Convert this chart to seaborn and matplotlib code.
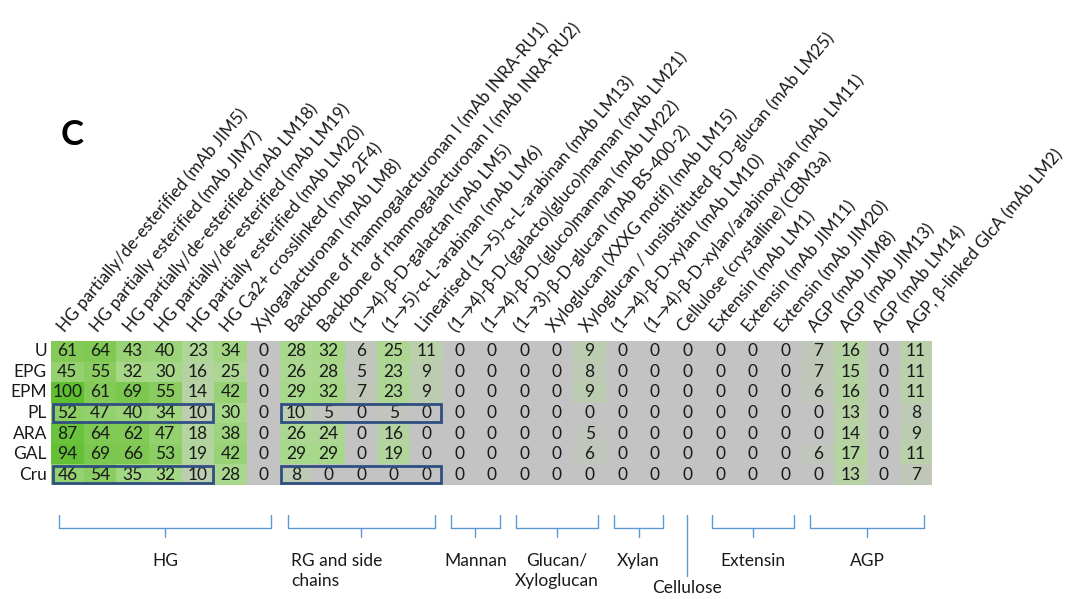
import numpy as np
import pandas as pd
import matplotlib
matplotlib.use("Agg")
import matplotlib.pyplot as plt
from matplotlib.colors import LinearSegmentedColormap
from matplotlib.patches import Rectangle
import seaborn as sns

# Epitopes probed (columns) and samples (rows)
epitopes = [
    "HG partially/de-esterified (mAb JIM5)",
    "HG partially esterified (mAb JIM7)",
    "HG partially/de-esterified (mAb LM18)",
    "HG partially/de-esterified (mAb LM19)",
    "HG partially esterified (mAb LM20)",
    "HG Ca2+ crosslinked (mAb 2F4)",
    "Xylogalacturonan (mAb LM8)",
    "Backbone of rhamnogalacturonan I (mAb INRA-RU1)",
    "Backbone of rhamnogalacturonan I (mAb INRA-RU2)",
    "(1→4)-β-D-galactan (mAb LM5)",
    "(1→5)-α-L-arabinan (mAb LM6)",
    "Linearised (1→5)-α-L-arabinan (mAb LM13)",
    "(1→4)-β-D-(galacto)(gluco)mannan (mAb LM21)",
    "(1→4)-β-D-(gluco)mannan (mAb LM22)",
    "(1→3)-β-D-glucan (mAb BS-400-2)",
    "Xyloglucan (XXXG motif) (mAb LM15)",
    "Xyloglucan / unsibstituted β-D-glucan (mAb LM25)",
    "(1→4)-β-D-xylan (mAb LM10)",
    "(1→4)-β-D-xylan/arabinoxylan (mAb LM11)",
    "Cellulose (crystalline) (CBM3a)",
    "Extensin (mAb LM1)",
    "Extensin (mAb JIM11)",
    "Extensin (mAb JIM20)",
    "AGP (mAb JIM8)",
    "AGP (mAb JIM13)",
    "AGP (mAb LM14)",
    "AGP, β-linked GlcA (mAb LM2)",
]
samples = ["U", "EPG", "EPM", "PL", "ARA", "GAL", "Cru"]

U   = [61, 64, 43, 40, 23, 34, 0, 28, 32, 6, 25, 11, 0, 0, 0, 0, 9, 0, 0, 0, 0, 0, 0, 7, 16, 0, 11]
EPG = [45, 55, 32, 30, 16, 25, 0, 26, 28, 5, 23, 9, 0, 0, 0, 0, 8, 0, 0, 0, 0, 0, 0, 7, 15, 0, 11]
EPM = [100, 61, 69, 55, 14, 42, 0, 29, 32, 7, 23, 9, 0, 0, 0, 0, 9, 0, 0, 0, 0, 0, 0, 6, 16, 0, 11]
PL  = [52, 47, 40, 34, 10, 30, 0, 10, 5, 0, 5, 0, 0, 0, 0, 0, 0, 0, 0, 0, 0, 0, 0, 0, 13, 0, 8]
ARA = [87, 64, 62, 47, 18, 38, 0, 26, 24, 0, 16, 0, 0, 0, 0, 0, 5, 0, 0, 0, 0, 0, 0, 0, 14, 0, 9]
GAL = [94, 69, 66, 53, 19, 42, 0, 29, 29, 0, 19, 0, 0, 0, 0, 0, 6, 0, 0, 0, 0, 0, 0, 6, 17, 0, 11]
Cru = [46, 54, 35, 32, 10, 28, 0, 8, 0, 0, 0, 0, 0, 0, 0, 0, 0, 0, 0, 0, 0, 0, 0, 0, 13, 0, 7]

# Polymer groups: (label, first column, last column)
groups = [
    ("HG", 0, 6),
    ("RG and side\nchains", 7, 11),
    ("Mannan", 12, 13),
    ("Glucan/\nXyloglucan", 14, 16),
    ("Xylan", 17, 18),
    ("Extensin", 20, 22),
    ("AGP", 23, 26),
]
cellulose_col = 19

# Highlighted blocks: (row, first column, last column)
highlights = [(3, 0, 4), (3, 7, 11), (6, 0, 4), (6, 7, 11)]

df = pd.DataFrame([U, EPG, EPM, PL, ARA, GAL, Cru], index=samples, columns=epitopes)

sns.set_theme(style="white")
plt.rcParams["font.family"] = ["Lato", "DejaVu Sans"]

cmap = LinearSegmentedColormap.from_list(
    "grey_green",
    [(0.0, "#c3c3c3"), (0.06, "#c0c6bb"), (0.12, "#b9d2a8"),
     (0.3, "#a7d88a"), (0.6, "#84ca58"), (1.0, "#5ebf2f")],
)

fig = plt.figure(figsize=(10.7, 5.99), dpi=100)
ax = fig.add_axes([0.0477, 0.1903, 0.8236, 0.2404])

sns.heatmap(df, ax=ax, cmap=cmap, vmin=0, vmax=100, cbar=False,
            annot=True, fmt="d", annot_kws={"fontsize": 12.5, "color": "#1a1a1a"},
            linewidths=0)

ax.xaxis.tick_top()
ax.set_xticks(np.arange(len(epitopes)) + 0.5)
ax.set_xticklabels(epitopes, rotation=50, ha="left", va="bottom",
                   rotation_mode="anchor", fontsize=12.3, color="#1a1a1a")
ax.tick_params(axis="x", length=0, pad=4)
ax.set_yticklabels(samples, rotation=0, fontsize=12.5, color="#1a1a1a")
ax.tick_params(axis="y", length=0, pad=3)
ax.set_xlabel("")
ax.set_ylabel("")

for r, c0, c1 in highlights:
    ax.add_patch(Rectangle((c0 + 0.05, r + 0.08), c1 - c0 + 0.9, 0.84,
                           fill=False, edgecolor="#2f4f80", linewidth=2.0,
                           clip_on=False, zorder=5))

# Group brackets below the table
bcol = "#5b9bd5"
y_top, y_mid, y_tick = 8.45, 9.1, 9.55
inset = 0.25
lab_fs = 12.5
for label, c0, c1 in groups:
    x0, x1 = c0 + inset, c1 + 1 - inset
    xm = (x0 + x1) / 2
    ax.plot([x0, x0, x1, x1], [y_top, y_mid, y_mid, y_top], color=bcol,
            lw=1.0, clip_on=False)
    ax.plot([xm, xm], [y_mid, y_tick], color=bcol, lw=1.0, clip_on=False)
    if label.startswith("RG"):
        ax.text(x0 + 0.1, 10.3, label, ha="left", va="top", fontsize=lab_fs,
                color="#1a1a1a", linespacing=1.3)
    else:
        ax.text(xm, 10.3, label, ha="center", va="top", fontsize=lab_fs,
                color="#1a1a1a", linespacing=1.3)

xc = cellulose_col + 0.5
ax.plot([xc, xc], [y_top, 11.4], color=bcol, lw=1.0, clip_on=False)
ax.text(xc, 11.6, "Cellulose", ha="center", va="top", fontsize=lab_fs, color="#1a1a1a")

fig.text(0.067, 0.775, "C", fontsize=25, fontweight="bold", ha="center", va="center",
         color="black")

fig.savefig("out.png", dpi=100, facecolor="white")
